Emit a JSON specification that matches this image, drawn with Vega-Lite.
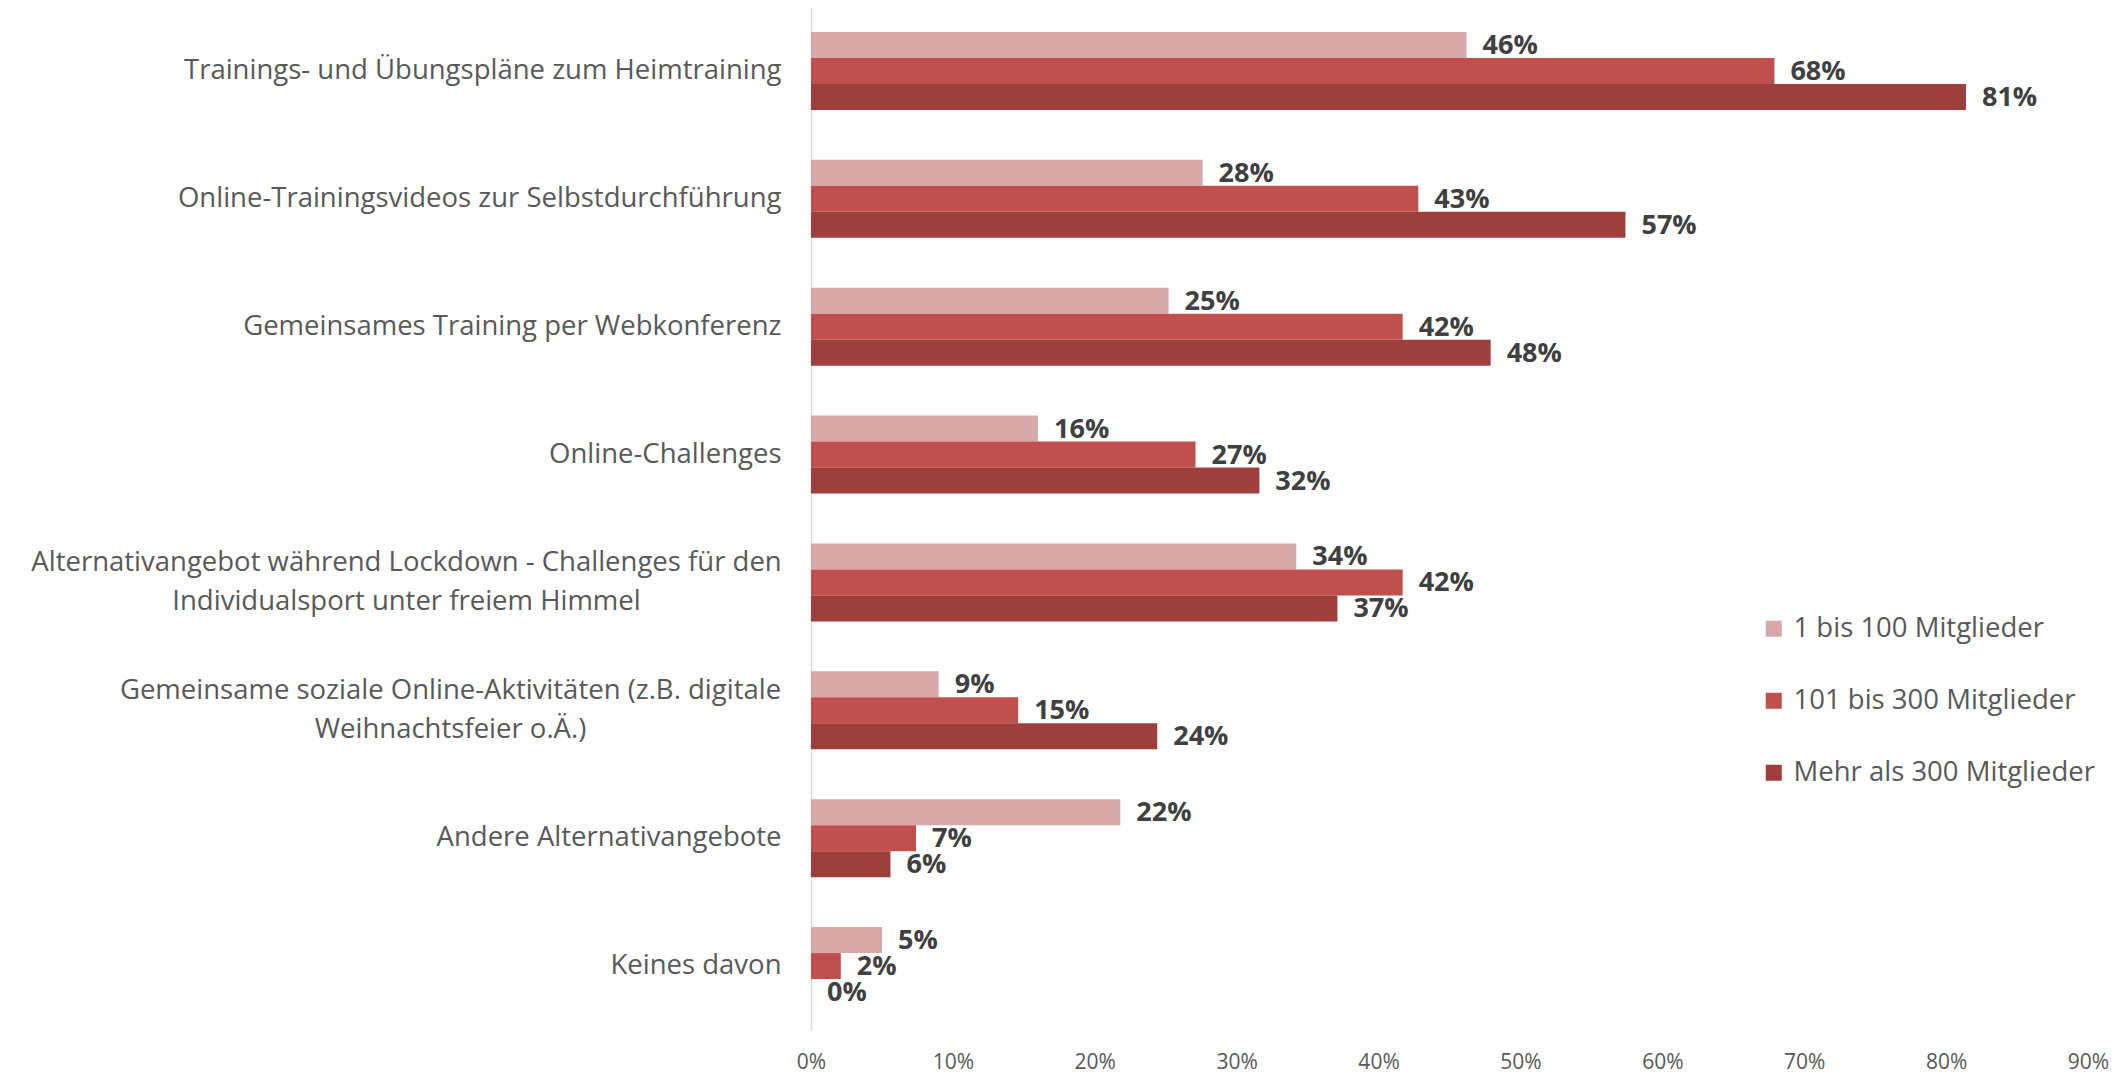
{
  "$schema": "https://vega.github.io/schema/vega-lite/v6.json",
  "width": 1277,
  "height": 1023,
  "autosize": {"type": "none"},
  "padding": {"left": 811, "top": 7, "right": 38, "bottom": 44},
  "background": "white",
  "config": {
    "view": {"stroke": null},
    "font": "Open Sans"
  },
  "data": {
    "values": [
      {"cat": "Trainings- und Übungspläne zum Heimtraining", "grp": "1 bis 100 Mitglieder", "v": 0.462},
      {"cat": "Trainings- und Übungspläne zum Heimtraining", "grp": "101 bis 300 Mitglieder", "v": 0.679},
      {"cat": "Trainings- und Übungspläne zum Heimtraining", "grp": "Mehr als 300 Mitglieder", "v": 0.814},
      {"cat": "Online-Trainingsvideos zur Selbstdurchführung", "grp": "1 bis 100 Mitglieder", "v": 0.276},
      {"cat": "Online-Trainingsvideos zur Selbstdurchführung", "grp": "101 bis 300 Mitglieder", "v": 0.428},
      {"cat": "Online-Trainingsvideos zur Selbstdurchführung", "grp": "Mehr als 300 Mitglieder", "v": 0.574},
      {"cat": "Gemeinsames Training per Webkonferenz", "grp": "1 bis 100 Mitglieder", "v": 0.252},
      {"cat": "Gemeinsames Training per Webkonferenz", "grp": "101 bis 300 Mitglieder", "v": 0.417},
      {"cat": "Gemeinsames Training per Webkonferenz", "grp": "Mehr als 300 Mitglieder", "v": 0.479},
      {"cat": "Online-Challenges", "grp": "1 bis 100 Mitglieder", "v": 0.16},
      {"cat": "Online-Challenges", "grp": "101 bis 300 Mitglieder", "v": 0.271},
      {"cat": "Online-Challenges", "grp": "Mehr als 300 Mitglieder", "v": 0.316},
      {"cat": "Alternativangebot während Lockdown - Challenges für den|Individualsport unter freiem Himmel", "grp": "1 bis 100 Mitglieder", "v": 0.342},
      {"cat": "Alternativangebot während Lockdown - Challenges für den|Individualsport unter freiem Himmel", "grp": "101 bis 300 Mitglieder", "v": 0.417},
      {"cat": "Alternativangebot während Lockdown - Challenges für den|Individualsport unter freiem Himmel", "grp": "Mehr als 300 Mitglieder", "v": 0.371},
      {"cat": "Gemeinsame soziale Online-Aktivitäten (z.B. digitale|Weihnachtsfeier o.Ä.)", "grp": "1 bis 100 Mitglieder", "v": 0.09},
      {"cat": "Gemeinsame soziale Online-Aktivitäten (z.B. digitale|Weihnachtsfeier o.Ä.)", "grp": "101 bis 300 Mitglieder", "v": 0.146},
      {"cat": "Gemeinsame soziale Online-Aktivitäten (z.B. digitale|Weihnachtsfeier o.Ä.)", "grp": "Mehr als 300 Mitglieder", "v": 0.244},
      {"cat": "Andere Alternativangebote", "grp": "1 bis 100 Mitglieder", "v": 0.218},
      {"cat": "Andere Alternativangebote", "grp": "101 bis 300 Mitglieder", "v": 0.074},
      {"cat": "Andere Alternativangebote", "grp": "Mehr als 300 Mitglieder", "v": 0.056},
      {"cat": "Keines davon", "grp": "1 bis 100 Mitglieder", "v": 0.05},
      {"cat": "Keines davon", "grp": "101 bis 300 Mitglieder", "v": 0.021},
      {"cat": "Keines davon", "grp": "Mehr als 300 Mitglieder", "v": 0.0}
    ]
  },
  "encoding": {
    "y": {
      "field": "cat",
      "type": "nominal",
      "sort": null,
      "scale": {"paddingInner": 0.39, "paddingOuter": 0.195},
      "axis": {
        "title": null,
        "ticks": false,
        "domain": true,
        "domainColor": "#d9d9d9",
        "domainWidth": 1.5,
        "labelExpr": "split(datum.label, '|')",
        "labelFont": "Open Sans",
        "labelFontSize": 27.5,
        "labelColor": "#595959",
        "labelPadding": {
          "condition": [
            {"test": "indexof(datum.label, 'Alternativangebot w') >= 0", "value": 405},
            {"test": "indexof(datum.label, 'Gemeinsame soziale') >= 0", "value": 361}
          ],
          "value": 30
        },
        "labelAlign": {
          "condition": {"test": "indexof(datum.label, '|') >= 0", "value": "center"},
          "value": "right"
        },
        "labelOffset": {
          "condition": {"test": "indexof(datum.label, '|') >= 0", "value": -19.5},
          "value": 0
        },
        "labelLineHeight": 39,
        "labelLimit": 900
      }
    },
    "yOffset": {
      "field": "grp",
      "type": "nominal",
      "sort": ["1 bis 100 Mitglieder", "101 bis 300 Mitglieder", "Mehr als 300 Mitglieder"],
      "scale": {"paddingInner": 0, "paddingOuter": 0}
    },
    "x": {
      "field": "v",
      "type": "quantitative",
      "scale": {"domain": [0, 0.9], "nice": false},
      "axis": {
        "title": null,
        "values": [0, 0.1, 0.2, 0.3, 0.4, 0.5, 0.6, 0.7, 0.8, 0.9],
        "format": ".0%",
        "grid": false,
        "ticks": false,
        "domain": false,
        "labelFlush": false,
        "labelFont": "Open Sans",
        "labelFontSize": 21,
        "labelColor": "#595959",
        "labelPadding": 21
      }
    }
  },
  "layer": [
    {
      "mark": {"type": "bar"},
      "encoding": {
        "color": {
          "field": "grp",
          "type": "nominal",
          "sort": ["1 bis 100 Mitglieder", "101 bis 300 Mitglieder", "Mehr als 300 Mitglieder"],
          "scale": {"range": ["#D9A9A9", "#C0504D", "#9E3F3D"]},
          "legend": {
            "title": null,
            "orient": "none",
            "legendX": 949,
            "legendY": 608,
            "symbolType": "square",
            "symbolSize": 256,
            "symbolStrokeWidth": 0,
            "symbolOpacity": 1,
            "labelFont": "Open Sans",
            "labelFontSize": 27.5,
            "labelColor": "#595959",
            "labelOffset": 6,
            "rowPadding": 43,
            "labelLimit": 500
          }
        }
      }
    },
    {
      "mark": {
        "type": "text",
        "align": "left",
        "baseline": "middle",
        "dx": 16,
        "dy": 1,
        "font": "Open Sans",
        "fontSize": 27,
        "fontWeight": "bold",
        "color": "#404040"
      },
      "encoding": {
        "text": {"field": "v", "type": "quantitative", "format": ".0%"}
      }
    }
  ]
}
